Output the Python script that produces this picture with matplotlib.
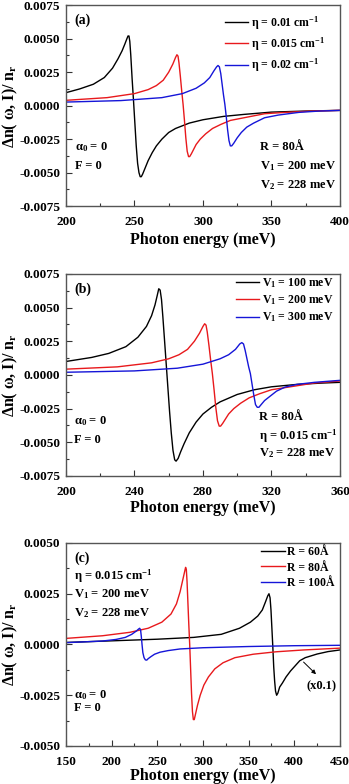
import numpy as np
import matplotlib
matplotlib.use('Agg')
import matplotlib.pyplot as plt
from matplotlib.ticker import MultipleLocator, FormatStrFormatter

plt.rcParams['font.family'] = ['Liberation Serif', 'DejaVu Serif']
plt.rcParams['font.weight'] = 'bold'
plt.rcParams['mathtext.fontset'] = 'custom'
plt.rcParams['mathtext.rm'] = 'Liberation Serif:bold'
plt.rcParams['mathtext.it'] = 'Liberation Serif:bold'
plt.rcParams['mathtext.bf'] = 'Liberation Serif:bold'

# ---- panel (a): eta ----
a_e1 = [200, 210, 220, 228, 234, 238, 241, 243, 244.5, 245.3, 246, 246.6, 247.3, 248.3, 249.3, 250.3, 251.3,
        252.3, 253.3, 254.2, 255, 256, 258, 260, 263, 266, 270, 275, 280, 290, 300, 315, 330, 350, 375, 400]
a_y1 = [0.00097, 0.00125, 0.0016, 0.0021, 0.0028, 0.0035, 0.0041, 0.0046, 0.0050, 0.0052, 0.0052, 0.0048,
        0.0038, 0.0020, 0.0004, -0.0013, -0.0030, -0.0043, -0.0050, -0.0053, -0.0053, -0.0051, -0.0046,
        -0.0041, -0.0035, -0.0030, -0.0025, -0.0020, -0.0017, -0.0013, -0.00105, -0.0008, -0.00065,
        -0.00048, -0.0004, -0.00035]
a_e2 = [200, 230, 250, 260, 266, 271, 275, 278, 280, 281, 281.8, 282.5, 283.5, 284.5, 285.5, 286.5, 287.5,
        288.5, 289.5, 290.3, 291.5, 293, 295, 298, 302, 307, 313, 320, 330, 345, 360, 380, 400]
a_y2 = [0.0004, 0.0006, 0.0009, 0.0012, 0.0015, 0.0019, 0.0025, 0.0031, 0.0036, 0.0038, 0.0037, 0.0032,
        0.0022, 0.0011, 0.0001, -0.0011, -0.0024, -0.0034, -0.0038, -0.0038, -0.0036, -0.0033, -0.0029,
        -0.0025, -0.0021, -0.0017, -0.0014, -0.0011, -0.0009, -0.0006, -0.0005, -0.0004, -0.00035]
a_e3 = [200, 240, 270, 285, 295, 301, 305, 308, 310, 311, 312, 313, 314, 315, 316, 317, 318, 319, 320, 321,
        322.5, 325, 328, 332, 337, 345, 355, 370, 385, 400]
a_y3 = [0.00027, 0.00038, 0.0006, 0.0009, 0.0013, 0.0017, 0.0021, 0.0026, 0.0029, 0.0030, 0.0029, 0.0024,
        0.0016, 0.0008, 0.0001, -0.0008, -0.0018, -0.0026, -0.0030, -0.0030, -0.0028, -0.0024, -0.0020,
        -0.0016, -0.0013, -0.0009, -0.0007, -0.0005, -0.0004, -0.00035]

# ---- panel (b): V1 ----
b_e1 = [200, 215, 225, 235, 242, 247, 250, 252, 253.3, 254.2, 255, 255.8, 256.6, 257.5, 258.5, 259.5, 260.5,
        261.5, 262.5, 263.5, 264.3, 265.5, 267, 269, 272, 276, 280, 285, 290, 300, 310, 320, 335, 350, 360]
b_y1 = [0.001, 0.0013, 0.0016, 0.0021, 0.0028, 0.0036, 0.0044, 0.0052, 0.0059, 0.0064, 0.0063, 0.0056,
        0.0043, 0.0027, 0.0009, -0.0009, -0.0027, -0.0043, -0.0056, -0.0063, -0.0064, -0.0062, -0.0057,
        -0.0051, -0.0043, -0.0035, -0.0029, -0.0024, -0.0020, -0.00145, -0.0011, -0.00088, -0.0007,
        -0.0006, -0.00055]
b_e2 = [200, 230, 250, 260, 266, 271, 275, 278, 280, 281, 281.8, 282.5, 283.5, 284.5, 285.5, 286.5, 287.5,
        288.5, 289.5, 290.3, 291.5, 293, 295, 298, 302, 307, 313, 320, 330, 345, 360]
b_y2 = [0.00043, 0.0006, 0.0009, 0.0012, 0.0015, 0.0019, 0.0025, 0.0031, 0.0036, 0.0038, 0.0037, 0.0032,
        0.0022, 0.0011, 0.0001, -0.0011, -0.0024, -0.0034, -0.0038, -0.0038, -0.0036, -0.0033, -0.0029,
        -0.0025, -0.0021, -0.0017, -0.0014, -0.0011, -0.0009, -0.0006, -0.00045]
b_e3 = [200, 240, 265, 280, 290, 295, 299, 301.5, 302.7, 303.7, 304.7, 305.7, 306.7, 307.7, 308.7, 309.7,
        310.7, 311.7, 312.7, 314, 316, 319, 323, 328, 335, 345, 360]
b_y3 = [0.0002, 0.0003, 0.0005, 0.0008, 0.0012, 0.0015, 0.0019, 0.0023, 0.0024, 0.0023, 0.0018, 0.0012,
        0.0006, 0.0001, -0.0007, -0.0015, -0.0022, -0.0024, -0.0024, -0.0022, -0.0019, -0.0016, -0.0012,
        -0.0009, -0.0007, -0.00055, -0.0004]

# ---- panel (c): R ----
c_e1 = [150, 200, 250, 290, 320, 340, 352, 360, 365, 368.5, 371, 372.3, 373.5, 374.5, 375.5, 376.5, 377.5,
        378.5, 379.5, 380.7, 382, 384, 387, 391, 396, 402, 406, 412, 425, 437, 450]
c_y1 = [0.0001, 0.00018, 0.00026, 0.00035, 0.0005, 0.0008, 0.0011, 0.0014, 0.0017, 0.0021, 0.0024, 0.0025,
        0.0023, 0.0017, 0.0008, -0.0001, -0.0011, -0.0018, -0.0023, -0.0025, -0.0024, -0.0021, -0.0019,
        -0.0016, -0.0013, -0.001, -0.0008, -0.00065, -0.00047, -0.00035, -0.00027]
c_e2 = [150, 190, 220, 240, 255, 265, 271, 275, 278, 280, 281, 281.8, 282.6, 283.5, 284.5, 285.5, 286.5,
        287.5, 288.5, 289.5, 290.5, 292, 294, 297, 301, 306, 313, 322, 335, 355, 380, 410, 450]
c_y2 = [0.0003, 0.00043, 0.0006, 0.0008, 0.0011, 0.0015, 0.002, 0.0026, 0.0032, 0.0036, 0.0038, 0.0037,
        0.0031, 0.0021, 0.001, 0.0, -0.0012, -0.0024, -0.0033, -0.0037, -0.0037, -0.0034, -0.003, -0.0025,
        -0.002, -0.0016, -0.0012, -0.0009, -0.00065, -0.00048, -0.00036, -0.00027, -0.00018]
c_e3 = [150, 190, 205, 215, 222, 227, 229.5, 230.7, 231.7, 232.5, 233.3, 234.2, 235.5, 237, 238.5, 240, 243,
        247, 253, 262, 275, 300, 350, 400, 450]
c_y3 = [0.00009, 0.00017, 0.00025, 0.00035, 0.0005, 0.00066, 0.00076, 0.0008, 0.00072, 0.0004, 0.0,
        -0.0004, -0.00065, -0.00076, -0.00077, -0.0007, -0.0006, -0.00048, -0.00038, -0.0003, -0.00022,
        -0.00016, -0.0001, -0.00006, -0.00004]

colors = ['black', '#e8191c', '#1515d8']

panels = [
    dict(rect=[0.189, 0.737, 0.785, 0.2564], xs=[a_e1, a_e2, a_e3], ys=[a_y1, a_y2, a_y3],
         labels=['η = 0.01 cm$^{-1}$', 'η = 0.015 cm$^{-1}$', 'η = 0.02 cm$^{-1}$'],
         xlim=(200, 400), xmaj=50, ylim=(-0.0075, 0.0075), tag='(a)',
         leg=(0.945, 0.955), lsp=0.3, xl=-0.128),
    dict(rect=[0.189, 0.3929, 0.785, 0.2577], xs=[b_e1, b_e2, b_e3], ys=[b_y1, b_y2, b_y3],
         labels=['V$_1$ = 100 meV', 'V$_1$ = 200 meV', 'V$_1$ = 300 meV'],
         xlim=(200, 360), xmaj=40, ylim=(-0.0075, 0.0075), tag='(b)',
         leg=(0.975, 0.99), lsp=0.3, xl=-0.117),
    dict(rect=[0.189, 0.0485, 0.785, 0.2589], xs=[c_e1, c_e2, c_e3], ys=[c_y1, c_y2, c_y3],
         labels=['R = 60Å', 'R = 80Å', 'R = 100Å'],
         xlim=(150, 450), xmaj=50, ylim=(-0.005, 0.005), tag='(c)',
         leg=(0.98, 0.985), lsp=0.3, xl=-0.108),
]

fig = plt.figure(figsize=(3.49, 7.84), dpi=100)
axes = []
for p in panels:
    ax = fig.add_axes(p['rect'])
    for x, y, c, lab in zip(p['xs'], p['ys'], colors, p['labels']):
        ax.plot(x, y, color=c, lw=1.0, label=lab)
    ax.set_xlim(*p['xlim'])
    ax.set_ylim(*p['ylim'])
    ax.xaxis.set_major_locator(MultipleLocator(p['xmaj']))
    ax.xaxis.set_minor_locator(MultipleLocator(p['xmaj'] / 2))
    ax.yaxis.set_major_locator(MultipleLocator(0.0025))
    ax.yaxis.set_minor_locator(MultipleLocator(0.00125))
    ax.yaxis.set_major_formatter(FormatStrFormatter('%.4f'))
    ax.tick_params(which='both', direction='in', labelsize=9.5, width=0.8, colors='#333333',
                   labelcolor='black')
    ax.tick_params(axis='x', pad=7)
    ax.tick_params(axis='y', pad=4)
    ax.tick_params(which='major', length=4)
    ax.tick_params(which='minor', length=2)
    for s in ax.spines.values():
        s.set_linewidth(1.0)
        s.set_color('#555555')
    ax.set_xlabel('Photon energy (meV)', fontsize=11.5, fontweight='bold')
    ax.set_ylabel('Δn( ω, I)/ n$_\\mathregular{r}$', fontsize=11.5, fontweight='bold')
    ax.xaxis.set_label_coords(0.5, p['xl'])
    ax.yaxis.set_label_coords(-0.168, 0.5)
    ax.legend(loc='upper right', bbox_to_anchor=p['leg'], frameon=False, fontsize=8.5, handlelength=2.0,
              handletextpad=0.2, labelspacing=p['lsp'], borderaxespad=0, borderpad=0)
    ax.text(0.03, 0.925, p['tag'], transform=ax.transAxes, fontsize=10, va='center')
    axes.append(ax)

fs = 9
ax = axes[0]
ax.text(0.033, 0.293, 'α$_0$ = 0', transform=ax.transAxes, fontsize=fs, va='center')
ax.text(0.033, 0.199, 'F = 0', transform=ax.transAxes, fontsize=fs, va='center')
ax.text(0.708, 0.293, 'R = 80Å', transform=ax.transAxes, fontsize=fs, va='center')
ax.text(0.708, 0.199, 'V$_1$ = 200 meV', transform=ax.transAxes, fontsize=fs, va='center')
ax.text(0.708, 0.103, 'V$_2$ = 228 meV', transform=ax.transAxes, fontsize=fs, va='center')

ax = axes[1]
ax.text(0.03, 0.27, 'α$_0$ = 0', transform=ax.transAxes, fontsize=fs, va='center')
ax.text(0.03, 0.178, 'F = 0', transform=ax.transAxes, fontsize=fs, va='center')
ax.text(0.705, 0.294, 'R = 80Å', transform=ax.transAxes, fontsize=fs, va='center')
ax.text(0.705, 0.195, 'η = 0.015 cm$^{-1}$', transform=ax.transAxes, fontsize=fs, va='center')
ax.text(0.705, 0.112, 'V$_2$ = 228 meV', transform=ax.transAxes, fontsize=fs, va='center')

ax = axes[2]
ax.text(0.03, 0.835, 'η = 0.015 cm$^{-1}$', transform=ax.transAxes, fontsize=fs, va='center')
ax.text(0.03, 0.75, 'V$_1$ = 200 meV', transform=ax.transAxes, fontsize=fs, va='center')
ax.text(0.03, 0.657, 'V$_2$ = 228 meV', transform=ax.transAxes, fontsize=fs, va='center')
ax.text(0.03, 0.25, 'α$_0$ = 0', transform=ax.transAxes, fontsize=fs, va='center')
ax.text(0.03, 0.188, 'F = 0', transform=ax.transAxes, fontsize=fs, va='center')
ax.annotate('', xy=(426, -0.00156), xytext=(408, -0.00077),
            arrowprops=dict(arrowstyle='-|>', color='black', lw=0.7, mutation_scale=6))
ax.text(430, -0.00205, '(x0.1)', fontsize=fs, ha='center', va='center')

fig.savefig('out.png', dpi=100)
